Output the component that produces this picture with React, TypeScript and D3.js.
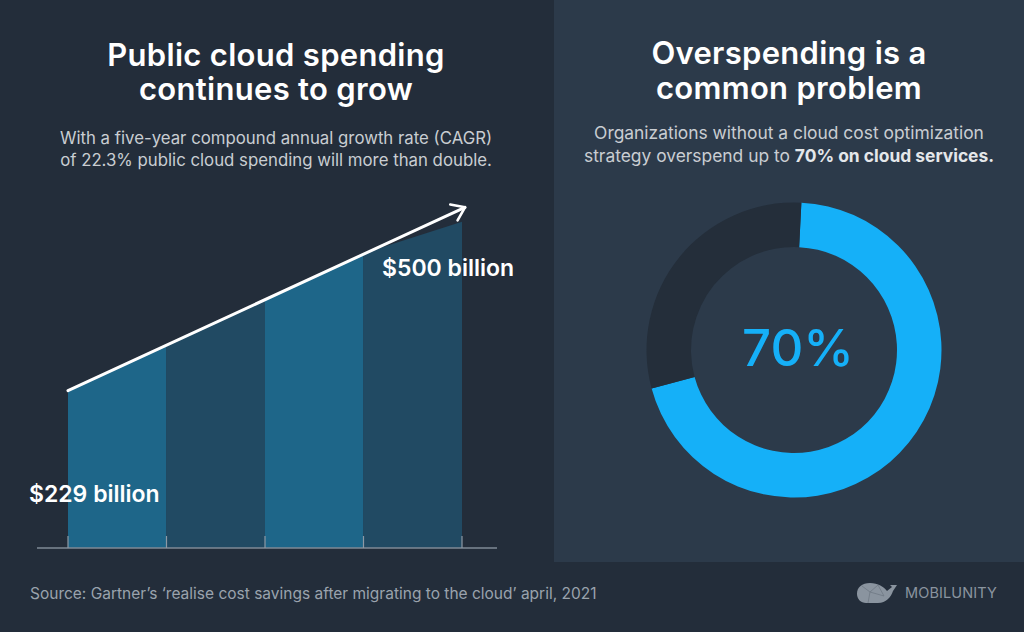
import React from "react";
import * as d3 from "d3";

const W = 1024;
const H = 632;

// Left chart: cloud spending (billion USD) read at each tick position
const periods = ["P0", "P1", "P2", "P3", "P4"];
const spending = [229, 295, 362, 429, 475];
const trendStart = 229;
const trendEnd = 496;
const startLabel = "$229 billion";
const endLabel = "$500 billion";

// Right chart: overspending share
const donutLabels = ["Overspend", "Rest"];
const donutValues = [70, 30];
const donutCenterLabel = "70%";

const FONT = "Inter, 'Noto Sans', sans-serif";

const BG = "#232d3a";
const PANEL = "#2c3a4a";
const BAR_LIGHT = "#1e6689";
const BAR_DARK = "#214a63";
const BLUE = "#15b0f8";
const DONUT_DARK = "#242e3a";

export default function App() {
  const x = d3.scalePoint<string>().domain(periods).range([68, 462]);
  const y = d3.scaleLinear().domain([0, 229]).range([548, 390.7]);

  const area = d3
    .area<[string, number]>()
    .x((d) => x(d[0]) as number)
    .y0(y(0))
    .y1((d) => y(d[1]));

  const pairs: [string, number][] = periods.map((p, i) => [p, spending[i]]);
  const segments = d3.range(periods.length - 1).map((i) => pairs.slice(i, i + 2));

  const x0 = x(periods[0]) as number;
  const x1 = (x(periods[periods.length - 1]) as number) + 3;
  const ty0 = y(trendStart);
  const ty1 = y(trendEnd);
  const trendLine = d3.line()([
    [x0, ty0],
    [x1, ty1],
  ]);
  const ang = Math.atan2(ty1 - ty0, x1 - x0);
  const headLen = 15;
  const headSpread = 0.62;
  const arrow = d3.line()([
    [x1 - headLen * Math.cos(ang - headSpread), ty1 - headLen * Math.sin(ang - headSpread)],
    [x1, ty1],
    [x1 - headLen * Math.cos(ang + headSpread), ty1 - headLen * Math.sin(ang + headSpread)],
  ]);

  const pie = d3
    .pie<number>()
    .sort(null)
    .startAngle(0.05)
    .endAngle(0.05 + Math.PI * 2);
  const arcs = pie(donutValues);
  const arc = d3.arc<d3.PieArcDatum<number>>().innerRadius(103).outerRadius(147.5);
  const cx = 794;
  const cy = 350;

  return (
    <svg
      width={W}
      height={H}
      style={{ position: "absolute", left: 0, top: 0, display: "block" }}
      fontFamily={FONT}
    >
      <rect x={0} y={0} width={W} height={H} fill={BG} />
      <rect x={554} y={0} width={W - 554} height={562} fill={PANEL} />

      {/* Left titles */}
      <text x={276} y={66} textAnchor="middle" fill="#ffffff" fontSize={31} fontWeight={600} letterSpacing={0.3}>
        Public cloud spending
      </text>
      <text x={276} y={100} textAnchor="middle" fill="#ffffff" fontSize={31} fontWeight={600} letterSpacing={0.3}>
        continues to grow
      </text>
      <text x={276} y={144} textAnchor="middle" fill="#c9cdd2" fontSize={16.8}>
        With a five-year compound annual growth rate (CAGR)
      </text>
      <text x={276} y={166} textAnchor="middle" fill="#c9cdd2" fontSize={16.8}>
        of 22.3% public cloud spending will more than double.
      </text>

      {/* Bars / area */}
      {segments.map((seg, i) => (
        <path key={i} d={area(seg) as string} fill={i % 2 === 0 ? BAR_LIGHT : BAR_DARK} />
      ))}

      {/* Axis */}
      <line x1={37} x2={497} y1={548} y2={548} stroke="#7f8a96" strokeWidth={1.5} />
      {periods.map((p) => (
        <line
          key={p}
          x1={x(p) as number}
          x2={x(p) as number}
          y1={536}
          y2={548}
          stroke="#8e99a5"
          strokeWidth={1.2}
        />
      ))}

      {/* Trend arrow */}
      <path d={trendLine as string} stroke="#ffffff" strokeWidth={3} fill="none" strokeLinecap="round" />
      <path
        d={arrow as string}
        stroke="#ffffff"
        strokeWidth={2.6}
        fill="none"
        strokeLinecap="round"
        strokeLinejoin="round"
      />

      <text x={29} y={502} fill="#ffffff" fontSize={23} fontWeight={600}>
        {startLabel}
      </text>
      <text x={382} y={276} fill="#ffffff" fontSize={23} fontWeight={600}>
        {endLabel}
      </text>

      {/* Right titles */}
      <text x={789} y={64} textAnchor="middle" fill="#ffffff" fontSize={31} fontWeight={600} letterSpacing={0.3}>
        Overspending is a
      </text>
      <text x={789} y={99} textAnchor="middle" fill="#ffffff" fontSize={31} fontWeight={600} letterSpacing={0.3}>
        common problem
      </text>
      <text x={789} y={139} textAnchor="middle" fill="#c9cdd2" fontSize={17.4}>
        Organizations without a cloud cost optimization
      </text>
      <text x={789} y={162} textAnchor="middle" fill="#c9cdd2" fontSize={17.4}>
        strategy overspend up to{" "}
        <tspan fontWeight={700} fill="#e4e7ea">
          70% on cloud services.
        </tspan>
      </text>

      {/* Donut */}
      <g transform={`translate(${cx},${cy})`}>
        {arcs.map((a, i) => (
          <path key={donutLabels[i]} d={arc(a) as string} fill={i === 0 ? BLUE : DONUT_DARK} />
        ))}
        <text x={4} y={16} textAnchor="middle" fill={BLUE} fontSize={51} fontWeight={500}>
          {donutCenterLabel}
        </text>
      </g>

      {/* Footer */}
      <text x={30} y={599} fill="#9aa3ad" fontSize={15.5}>
        Source: Gartner’s ‘realise cost savings after migrating to the cloud’ april, 2021
      </text>

      <g fill="#8a949f">
        <path d="M857,594 C857,587 862,583 870,583 C878,583 884,587 887,591 L892,587 L890,585 L897,585 L893,591 C891,597 886,603 878,603 L866,603 C861,603 857,599 857,594 Z" />
      </g>
      <g stroke="#6e7884" strokeWidth={0.8} fill="none">
        <path d="M862,586 L870,592 L878,585 M870,592 L868,603 M870,592 L884,596 M878,585 L884,596" />
      </g>
      <text x={905} y={598} fill="#8a949f" fontSize={14.5} letterSpacing={0.1}>
        MOBILUNITY
      </text>
    </svg>
  );
}
